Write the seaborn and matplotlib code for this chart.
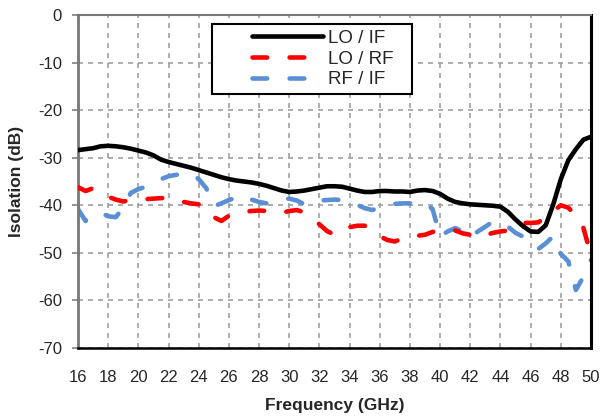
#!/usr/bin/env python3
"""
Isolation vs frequency for the mixer ports (LO/IF, LO/RF, RF/IF).
"""
import numpy as np
import pandas as pd
import matplotlib
matplotlib.use('Agg')
import matplotlib.pyplot as plt
import seaborn as sns
from matplotlib.legend_handler import HandlerLine2D

# ============================================================================
# Data (0.5 GHz steps)
# ============================================================================
freq_ghz = [16.0, 16.5, 17.0, 17.5, 18.0, 18.5, 19.0, 19.5, 20.0, 20.5,
            21.0, 21.5, 22.0, 22.5, 23.0, 23.5, 24.0, 24.5, 25.0, 25.5,
            26.0, 26.5, 27.0, 27.5, 28.0, 28.5, 29.0, 29.5, 30.0, 30.5,
            31.0, 31.5, 32.0, 32.5, 33.0, 33.5, 34.0, 34.5, 35.0, 35.5,
            36.0, 36.5, 37.0, 37.5, 38.0, 38.5, 39.0, 39.5, 40.0, 40.5,
            41.0, 41.5, 42.0, 42.5, 43.0, 43.5, 44.0, 44.5, 45.0, 45.5,
            46.0, 46.5, 47.0, 47.5, 48.0, 48.5, 49.0, 49.5, 50.0]

lo_if = [-28.4, -28.2, -28.0, -27.6, -27.5, -27.6, -27.8, -28.1, -28.5, -28.9,
         -29.5, -30.4, -30.9, -31.3, -31.7, -32.1, -32.6, -33.1, -33.6, -34.1,
         -34.5, -34.8, -35.0, -35.2, -35.5, -35.9, -36.4, -36.9, -37.2, -37.1,
         -36.9, -36.6, -36.3, -36.0, -36.0, -36.1, -36.5, -36.9, -37.2, -37.2,
         -37.0, -37.0, -37.1, -37.1, -37.2, -36.9, -36.8, -37.0, -37.6, -38.6,
         -39.3, -39.6, -39.8, -39.9, -40.0, -40.1, -40.3, -41.4, -43.0, -44.4,
         -45.5, -45.6, -44.2, -39.8, -34.5, -30.5, -28.2, -26.2, -25.6]

lo_rf = [-36.2, -37.0, -36.4, -37.4, -38.2, -38.8, -39.2, -38.9, -38.8, -38.7,
         -38.6, -38.5, -38.4, -38.8, -39.3, -39.6, -39.8, -40.4, -42.5, -43.3,
         -42.2, -41.6, -41.4, -41.2, -41.1, -41.2, -41.4, -41.6, -41.2, -41.0,
         -41.5, -42.6, -44.0, -45.4, -46.2, -45.1, -44.6, -44.3, -44.3, -45.0,
         -46.5, -47.3, -47.6, -47.0, -46.6, -46.4, -46.2, -45.6, -45.2, -45.0,
         -45.3, -45.9, -46.2, -46.8, -46.3, -45.8, -45.5, -45.3, -44.6, -43.7,
         -43.7, -43.6, -42.5, -41.2, -40.0, -40.5, -42.2, -44.8, -50.5]

rf_if = [-40.8, -43.3, -42.0, -41.6, -42.3, -42.5, -40.5, -37.4, -36.6, -36.1,
         -35.5, -34.5, -33.9, -33.6, -33.4, -33.3, -34.5, -36.4, -40.2, -39.6,
         -38.9, -38.4, -37.9, -38.8, -39.3, -39.6, -39.2, -38.8, -38.6, -39.0,
         -39.8, -39.6, -39.0, -38.9, -38.8, -38.9, -39.3, -39.9, -40.6, -41.0,
         -40.5, -40.0, -39.7, -39.6, -39.6, -39.6, -39.5, -40.8, -46.5, -45.5,
         -44.8, -45.5, -46.8, -45.5, -44.5, -43.4, -44.2, -44.5, -45.8, -46.6,
         -47.8, -49.2, -48.0, -46.5, -50.2, -51.8, -57.8, -55.0, -51.5]

series_names = ['LO / IF', 'LO / RF', 'RF / IF']
series_colors = ['#000000', '#ff0000', '#5a8fd5']

df = pd.DataFrame({'freq': freq_ghz, 'LO / IF': lo_if,
                   'LO / RF': lo_rf, 'RF / IF': rf_if})

# ============================================================================
# Style
# ============================================================================
sns.set_style('white')
plt.rcParams['font.family'] = ['Liberation Sans', 'DejaVu Sans']
plt.rcParams['axes.unicode_minus'] = False

LW = 3.3
DASH = (3.2, 4.9)  # in units of line width (Excel long dash, round caps)


class ExcelKey(HandlerLine2D):
    # sample line only fills the right part of the key area, like Excel
    def get_xdata(self, legend, xdescent, ydescent, width, height, fontsize):
        xdata = np.array([-xdescent + 0.33 * width, -xdescent + width])
        return xdata, xdata


fig = plt.figure(figsize=(6.02, 4.18), dpi=100)
ax = fig.add_axes([78 / 602, 70 / 418, 513 / 602, 333 / 418])

zorders = [4, 3, 2]
for name, color, z in zip(series_names, series_colors, zorders):
    kws = dict(color=color, linewidth=LW, label=name, zorder=z)
    if name != 'LO / IF':
        kws.update(linestyle=(0, DASH), dash_capstyle='round')
    else:
        kws.update(solid_capstyle='round')
    sns.lineplot(data=df, x='freq', y=name, ax=ax, **kws)

ax.set_xlim(16, 50)
ax.set_ylim(-70, 0)
ax.set_xticks(np.arange(16, 51, 2))
ax.set_yticks(np.arange(-70, 1, 10))

ax.grid(True, color='#a0a0a0', linestyle=(0, (3, 3)), linewidth=1.2)
ax.set_axisbelow(True)

ax.tick_params(axis='x', length=0, pad=16, labelsize=12)
ax.tick_params(axis='y', length=4.5, width=1.2, color='#808080',
               direction='out', pad=7, labelsize=12, left=True)

for side, col, lw in [('left', '#777777', 2.0), ('top', '#777777', 1.5),
                      ('right', '#000000', 2.2), ('bottom', '#000000', 1.8)]:
    ax.spines[side].set_visible(True)
    ax.spines[side].set_color(col)
    ax.spines[side].set_linewidth(lw)

ax.set_xlabel('Frequency (GHz)', fontsize=12.5, fontweight='bold', labelpad=9)
ax.set_ylabel('Isolation (dB)', fontsize=12.5, fontweight='bold', labelpad=10)

handles, labels = ax.get_legend_handles_labels()
leg = ax.legend(handles, labels, loc='upper left', mode='expand',
                bbox_to_anchor=(0.261, 0.751, 0.39, 0.222), borderaxespad=0,
                fontsize=13.5, handlelength=5.6, handletextpad=0.3,
                borderpad=0.3, labelspacing=0.2, fancybox=False,
                framealpha=1, edgecolor='black',
                handler_map={h: ExcelKey() for h in handles})
leg.get_frame().set_linewidth(1.5)
leg.set_zorder(10)

plt.savefig('out.png', dpi=100)
plt.close()
